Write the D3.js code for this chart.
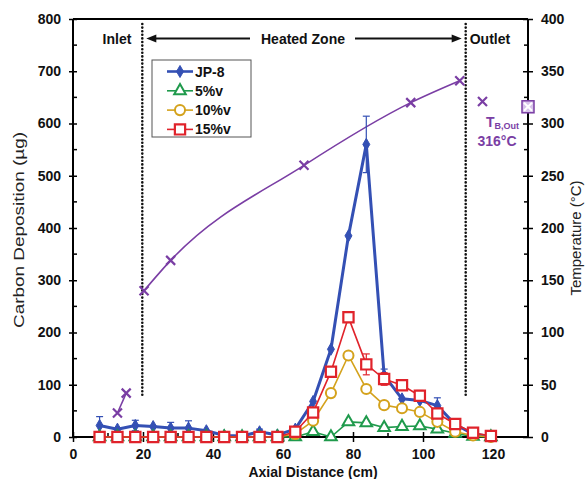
<!DOCTYPE html>
<html><head><meta charset="utf-8">
<script src="https://cdn.jsdelivr.net/npm/d3@7"></script>
<style>
body{margin:0;background:#fff}
svg{display:block}
text{font-family:"Liberation Sans",Arial,Helvetica,sans-serif}
</style>
</head><body>
<svg id="chart" width="585" height="479"></svg>
<script>
// ---------------- data ----------------
const axialPos = [7.6,12.7,17.8,22.9,27.9,33.0,38.1,43.2,48.3,53.3,58.4,63.5,68.6,73.7,78.7,83.8,88.9,94.0,99.1,104.1,109.2,114.3,119.4];
const jp8      = [22,15,22,20,17,17,12,3,2,10,4,15,68,168,385,560,118,73,70,60,24,6,1];
const jp8Err   = [17,0,10,0,11,14,0,0,0,5,0,0,0,0,0,54,12,0,0,15,0,0,0];
const v5       = [0,0,0,0,0,0,0,0,0,0,0,0,10,0,29,27,18,20,21,15,7,1,0];
const v10      = [0,0,0,0,0,0,0,0,0,0,0,6,31,84,156,92,61,55,48,29,10,3,0];
const v15      = [0,0,0,0,0,0,0,0,0,0,0,10,47,125,229,139,111,99,79,45,25,8,2];
const v15Err   = [0,0,0,0,0,0,0,0,0,0,0,0,0,0,0,20,12,8,10,0,0,0,0];

const tempInletPos  = [12.7,15.2];
const tempInlet     = [23,42];
const tempHeatedPos = [20.3,27.9,66.0,96.5,110.5];
const tempHeated    = [140,169,260,320,341];
const tempOutletPos = [117.0];
const tempOutlet    = [321];
const tempBulkPos   = [130];
const tempBulk      = [316];

const xTicks  = [0,20,40,60,80,100,120];
const yLTicks = [0,100,200,300,400,500,600,700,800];
const yRTicks = [0,50,100,150,200,250,300,350,400];
const inletEdge = 19.8, outletEdge = 112.2;

const seriesNames = ["JP-8","5%v","10%v","15%v"];

// ---------------- setup ----------------
const svg = d3.select("#chart");
const x  = d3.scaleLinear().domain([0,130]).range([73,528]);
const yL = d3.scaleLinear().domain([0,800]).range([437,19]);
const yR = d3.scaleLinear().domain([0,400]).range([437,19]);

const BLUE="#3450b4", GREEN="#1f9a4c", GOLD="#d4a21c", RED="#e0232b", PURPLE="#7a3ea4";
function bold(sel, size){ return sel.attr("font-weight","bold").attr("font-size",(size||14)+"px"); }

// frame: top line
svg.append("line").attr("x1",x(0)).attr("x2",x(130)).attr("y1",yL(800)).attr("y2",yL(800))
  .attr("stroke","#000").attr("stroke-width",2);

// bottom axis
const gx = svg.append("g").attr("transform",`translate(0,${yL(0)})`)
  .call(d3.axisBottom(x).tickValues(xTicks).tickSize(5).tickPadding(7).tickSizeOuter(0));
gx.selectAll(".tick line").attr("y1",-5).attr("y2",5).attr("stroke-width",1.5);
gx.selectAll(".tick text").attr("font-size","14px").attr("font-weight","bold").attr("font-family","Liberation Sans, Arial, sans-serif").attr("fill","#111");
gx.select(".domain").attr("stroke-width",2).attr("d",`M${x(0)},0H${x(130)}`);
gx.selectAll(".minor").data([10,30,50,70,90,110]).enter().append("line")
  .attr("x1",d=>x(d)).attr("x2",d=>x(d)).attr("y1",0).attr("y2",-4).attr("stroke","#000").attr("stroke-width",1.5);

// left axis
const gl = svg.append("g").attr("transform",`translate(${x(0)},0)`)
  .call(d3.axisLeft(yL).tickValues(yLTicks).tickSize(4).tickPadding(8).tickSizeOuter(0));
gl.selectAll(".tick line").attr("x1",-4).attr("x2",4).attr("stroke-width",1.5);
gl.selectAll(".tick text").attr("font-size","14px").attr("font-weight","bold").attr("font-family","Liberation Sans, Arial, sans-serif").attr("fill","#111");
gl.select(".domain").attr("stroke-width",2).attr("d",`M0,${yL(0)}V${yL(800)}`);
gl.selectAll(".minor").data(d3.range(50,800,100)).enter().append("line")
  .attr("x1",0).attr("x2",4).attr("y1",d=>yL(d)).attr("y2",d=>yL(d)).attr("stroke","#000").attr("stroke-width",1.5);

// right axis
const gr = svg.append("g").attr("transform",`translate(${x(130)},0)`)
  .call(d3.axisRight(yR).tickValues(yRTicks).tickSize(4).tickPadding(9).tickSizeOuter(0));
gr.selectAll(".tick line").attr("x1",-5).attr("x2",5).attr("stroke-width",1.5);
gr.selectAll(".tick text").attr("font-size","14px").attr("font-weight","bold").attr("font-family","Liberation Sans, Arial, sans-serif").attr("fill","#111");
gr.select(".domain").attr("stroke-width",2).attr("d",`M0,${yR(0)}V${yR(400)}`);
gr.selectAll(".minor").data(d3.range(25,400,50)).enter().append("line")
  .attr("x1",0).attr("x2",-4).attr("y1",d=>yR(d)).attr("y2",d=>yR(d)).attr("stroke","#000").attr("stroke-width",1.5);

// axis titles
bold(svg.append("text"),14).attr("x",313).attr("y",477).attr("text-anchor","middle")
  .attr("fill","#111").text("Axial Distance (cm)");
svg.append("text").attr("transform","translate(24,230) rotate(-90)").attr("text-anchor","middle")
  .attr("font-size","15px").attr("fill","#222").attr("textLength",196).attr("lengthAdjust","spacingAndGlyphs")
  .text("Carbon Deposition (µg)");
svg.append("text").attr("transform","translate(581,238) rotate(-90)").attr("text-anchor","middle")
  .attr("font-size","15px").attr("fill","#222").text("Temperature (°C)");

// zone lines
[inletEdge,outletEdge].forEach(e=>{
  svg.append("line").attr("x1",x(e)).attr("x2",x(e)).attr("y1",24).attr("y2",397)
    .attr("stroke","#111").attr("stroke-width",2.6).attr("stroke-linecap","round").attr("stroke-dasharray","0,3.6");
});
// zone labels
bold(svg.append("text")).attr("x",117).attr("y",44).attr("text-anchor","middle").attr("fill","#111").text("Inlet");
bold(svg.append("text")).attr("x",303).attr("y",44).attr("text-anchor","middle").attr("fill","#111").text("Heated Zone");
bold(svg.append("text")).attr("x",x(outletEdge)+4).attr("y",44).attr("fill","#111").text("Outlet");
// arrows
const ay = 38.5;
function arrow(x1,x2){
  const dir = Math.sign(x2-x1);
  svg.append("line").attr("x1",x1).attr("x2",x2-dir*8).attr("y1",ay).attr("y2",ay).attr("stroke","#111").attr("stroke-width",2.2);
  svg.append("path").attr("d",`M${x2},${ay}L${x2-dir*10},${ay-4}L${x2-dir*10},${ay+4}Z`).attr("fill","#111");
}
arrow(250, x(inletEdge)+4);
arrow(355, x(outletEdge)-4);

// ---------------- temperature ----------------
const gT = svg.append("g");
const tLine = d3.line().x(d=>x(d[0])).y(d=>yR(d[1]));
gT.append("path").attr("d",tLine(d3.zip(tempInletPos,tempInlet))).attr("fill","none").attr("stroke",PURPLE).attr("stroke-width",1.6);
gT.append("path").attr("d",d3.line().x(d=>x(d[0])).y(d=>yR(d[1])).curve(d3.curveMonotoneX)(d3.zip(tempHeatedPos,tempHeated)))
  .attr("fill","none").attr("stroke",PURPLE).attr("stroke-width",1.6);
function xMark(px,py,s){
  gT.append("path").attr("d",`M${px-s},${py-s}L${px+s},${py+s}M${px-s},${py+s}L${px+s},${py-s}`)
    .attr("stroke",PURPLE).attr("stroke-width",2.2).attr("fill","none");
}
d3.zip(tempInletPos.concat(tempHeatedPos,tempOutletPos), tempInlet.concat(tempHeated,tempOutlet))
  .forEach(d=>xMark(x(d[0]),yR(d[1]),4.5));
d3.zip(tempBulkPos,tempBulk).forEach(d=>{
  const px=x(d[0]), py=yR(d[1]);
  gT.append("rect").attr("x",px-6).attr("y",py-6).attr("width",12).attr("height",12)
    .attr("fill","#d8c4ea").attr("stroke",PURPLE).attr("stroke-width",1.5);
  gT.append("path").attr("d",`M${px-4},${py-4}L${px+4},${py+4}M${px-4},${py+4}L${px+4},${py-4}`)
    .attr("stroke","#fff").attr("stroke-width",2);
});
const tb = svg.append("text").attr("x",486).attr("y",127).attr("fill",PURPLE).attr("font-weight","bold");
tb.append("tspan").attr("font-size","14px").text("T");
tb.append("tspan").attr("font-size","9px").attr("dy",1.5).text("B,Out");
bold(svg.append("text")).attr("x",497).attr("y",146).attr("text-anchor","middle").attr("fill",PURPLE).text("316°C");

// ---------------- deposition series ----------------
const line = d3.line().x(d=>x(d[0])).y(d=>yL(d[1]));
function errorBars(vals, errs, color){
  const g = svg.append("g").attr("stroke",color).attr("stroke-width",1.2);
  axialPos.forEach((p,i)=>{
    if(!errs[i]) return;
    const px=x(p), y1=yL(vals[i]+errs[i]), y2=yL(Math.max(0,vals[i]-errs[i]));
    g.append("line").attr("x1",px).attr("x2",px).attr("y1",y1).attr("y2",y2);
    g.append("line").attr("x1",px-3.5).attr("x2",px+3.5).attr("y1",y1).attr("y2",y1);
    g.append("line").attr("x1",px-3.5).attr("x2",px+3.5).attr("y1",y2).attr("y2",y2);
  });
}
const sym = {
  diamond: d3.symbol().type(d3.symbolDiamond).size(42),
  triangle: d3.symbol().type(d3.symbolTriangle).size(58),
  circle: d3.symbol().type(d3.symbolCircle).size(80),
  square: d3.symbol().type(d3.symbolSquare).size(105)
};
const series = [
  {name:seriesNames[0], vals:jp8, color:BLUE, width:3, sym:sym.diamond, fill:BLUE, sw:1, err:jp8Err},
  {name:seriesNames[1], vals:v5,  color:GREEN, width:1.6, sym:sym.triangle, fill:"#fff", sw:2, err:null},
  {name:seriesNames[2], vals:v10, color:GOLD, width:1.6, sym:sym.circle, fill:"#fff", sw:2, err:null},
  {name:seriesNames[3], vals:v15, color:RED, width:1.6, sym:sym.square, fill:"#fff", sw:2.2, err:v15Err}
];
series.forEach(s=>{
  if(s.err) errorBars(s.vals, s.err, s.color);
  svg.append("path").attr("d",line(d3.zip(axialPos,s.vals))).attr("fill","none")
    .attr("stroke",s.color).attr("stroke-width",s.width).attr("stroke-linejoin","round");
  svg.append("g").selectAll("path").data(d3.zip(axialPos,s.vals)).enter().append("path")
    .attr("d",s.sym).attr("transform",d=>`translate(${x(d[0])},${yL(d[1])})`)
    .attr("fill",s.fill).attr("stroke",s.color).attr("stroke-width",s.sw);
});

// ---------------- legend ----------------
const lg = svg.append("g");
lg.append("rect").attr("x",152).attr("y",60).attr("width",99).attr("height",77)
  .attr("fill","#fff").attr("stroke","#555").attr("stroke-width",1);
series.forEach((s,i)=>{
  const ly = 71.5 + i*19.3;
  lg.append("line").attr("x1",167).attr("x2",193).attr("y1",ly).attr("y2",ly).attr("stroke",s.color).attr("stroke-width",s.width>2?2.6:1.6);
  lg.append("path").attr("d",s.sym).attr("transform",`translate(180,${ly})`).attr("fill",s.fill).attr("stroke",s.color).attr("stroke-width",s.sw);
  bold(lg.append("text")).attr("x",195).attr("y",ly+5).attr("fill","#111").text(s.name);
});
</script>
</body></html>
